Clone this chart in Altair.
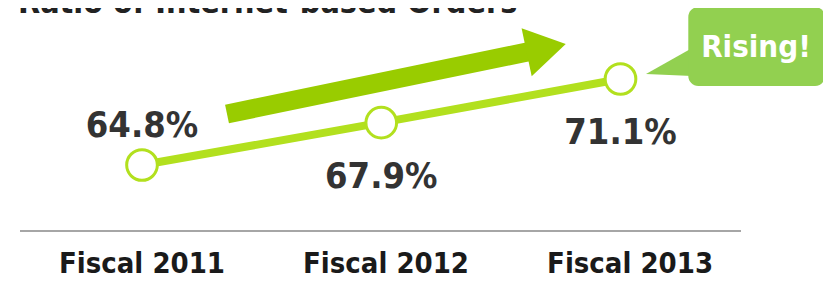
import altair as alt
import pandas as pd

# ---- data ----
years = ["Fiscal 2011", "Fiscal 2012", "Fiscal 2013"]
ratios = [64.8, 67.9, 71.1]
labels = ["64.8%", "67.9%", "71.1%"]
title_text = "Ratio of Internet-based Orders"
callout_text = "Rising!"

df = pd.DataFrame({"idx": [0, 1, 2], "year": years, "ratio": ratios, "label": labels})
note = pd.DataFrame({"note": [callout_text], "title": [title_text]})

LINE_GREEN = "#b2e01e"
ARROW_GREEN = "#99cc00"
CALLOUT_GREEN = "#92d050"
FONT = "DejaVu Sans Condensed, DejaVu Sans"

H = 273
xs = alt.Scale(domain=[-0.5601, 2.8464], nice=False, zero=False)
ys = alt.Scale(domain=[64.8 - (H - 157) / 13.65, 76.302], nice=False, zero=False)
X = alt.X("idx:Q", scale=xs, axis=None)
Y = alt.Y("ratio:Q", scale=ys, axis=None)

base = alt.Chart(df)
deco = alt.Chart(note)

baseline_rule = deco.mark_rule(color="#888888", strokeWidth=1.5).encode(
    x=alt.value(12), x2=alt.value(733), y=alt.value(223))

shaft = deco.mark_rule(color=ARROW_GREEN, strokeWidth=19, strokeCap="butt").encode(
    x=alt.value(219), y=alt.value(106), x2=alt.value(521), y2=alt.value(43.6))
head = deco.mark_point(shape="M-0.816,-1L0.816,0L-0.816,1Z", size=2401, filled=True,
                       color=ARROW_GREEN, opacity=1, angle=348.1, strokeWidth=0).encode(
    x=alt.value(538.2), y=alt.value(40.1))

line = base.mark_line(color=LINE_GREEN, strokeWidth=8).encode(X, Y)
pts = base.mark_circle(fill="white", stroke=LINE_GREEN, strokeWidth=3, size=940,
                       opacity=1, fillOpacity=1).encode(X, Y)

lab_above = base.transform_filter("datum.idx == 0").mark_text(
    font=FONT, fontSize=36, fontWeight="bold", color="#333333",
    baseline="alphabetic", align="center", dy=-28).encode(X, Y, text="label:N")
lab_below = base.transform_filter("datum.idx > 0").mark_text(
    font=FONT, fontSize=36, fontWeight="bold", color="#333333",
    baseline="alphabetic", align="center", dy=65).encode(X, Y, text="label:N")

fiscal = base.transform_calculate(lx="datum.idx * 1.02").mark_text(
    font=FONT, fontSize=29, fontWeight="bold", color="#1a1a1a",
    baseline="alphabetic", align="center").encode(
    x=alt.X("lx:Q", scale=xs, axis=None), y=alt.value(265), text="year:N")

tail = deco.mark_point(shape="M-1,0.591L1.1,-0.591L1.1,0.682Z", size=1936, filled=True,
                       color=CALLOUT_GREEN, opacity=1, strokeWidth=0).encode(
    x=alt.value(660), y=alt.value(53))
box = deco.mark_rect(color=CALLOUT_GREEN, cornerRadius=10, opacity=1).encode(
    x=alt.value(680.3), x2=alt.value(817), y=alt.value(-1), y2=alt.value(78))
callout = deco.mark_text(font=FONT, fontSize=31, fontWeight="bold", color="white",
                         baseline="alphabetic", align="center").encode(
    x=alt.value(748), y=alt.value(49), text="note:N")

title = deco.mark_text(font=FONT, fontSize=32, fontWeight="bold", color="#222222",
                       baseline="alphabetic", align="left").encode(
    x=alt.value(10), y=alt.value(5), text="title:N")

chart = alt.layer(
    baseline_rule, shaft, head, line, pts, lab_above, lab_below, fiscal,
    tail, box, callout, title
).properties(
    width=815, height=H, padding=0,
    autosize=alt.AutoSizeParams(type="none")
).configure_view(stroke=None)

chart.save("out.html", embed_options={"renderer": "svg", "actions": False})
